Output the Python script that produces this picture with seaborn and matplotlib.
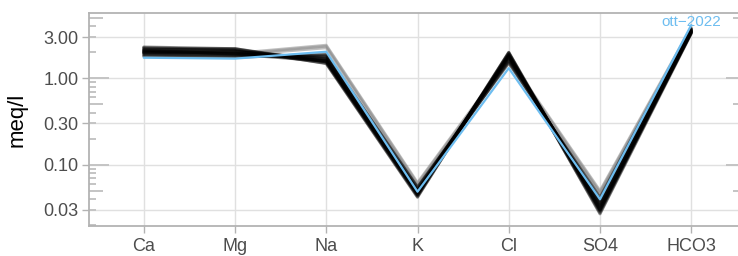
import numpy as np
import pandas as pd
import seaborn as sns
import matplotlib
matplotlib.use("Agg")
import matplotlib.pyplot as plt
from matplotlib.ticker import FixedLocator, NullLocator

# ions on the x axis
ions = ["Ca", "Mg", "Na", "K", "Cl", "SO4", "HCO3"]

# earlier samples (black band), meq/l
black_lines = [
    [2.25, 2.15, 1.55, 0.045, 1.95, 0.029, 3.45],
    [2.20, 2.10, 1.50, 0.043, 1.90, 0.028, 3.40],
    [2.10, 2.05, 1.60, 0.047, 1.85, 0.031, 3.50],
    [2.05, 2.00, 1.70, 0.050, 1.80, 0.033, 3.55],
    [2.00, 1.95, 1.65, 0.048, 1.75, 0.035, 3.60],
    [1.95, 1.90, 1.75, 0.052, 1.70, 0.036, 3.50],
    [1.90, 1.85, 1.80, 0.050, 1.60, 0.038, 3.65],
    [1.85, 1.80, 1.85, 0.054, 1.55, 0.040, 3.70],
    [2.15, 2.20, 1.55, 0.044, 2.00, 0.030, 3.35],
    [2.30, 2.20, 1.48, 0.042, 1.98, 0.027, 3.30],
    [1.80, 1.75, 1.90, 0.055, 1.50, 0.042, 3.75],
    [2.05, 1.95, 1.60, 0.046, 1.88, 0.032, 3.45],
    [1.98, 2.05, 1.68, 0.049, 1.78, 0.034, 3.55],
    [2.12, 1.90, 1.58, 0.045, 1.82, 0.030, 3.40],
]

# a few samples drawn in gray
gray_lines = [
    [2.00, 1.90, 2.35, 0.060, 1.65, 0.048, 3.80],
    [1.95, 1.85, 2.25, 0.057, 1.62, 0.046, 3.70],
    [2.05, 1.95, 2.42, 0.062, 1.70, 0.050, 3.90],
]

# highlighted sample
last_label = "ott\u22122022"
last_values = [1.73, 1.69, 2.03, 0.0487, 1.31, 0.0398, 4.14]

y_ticks = [0.03, 0.1, 0.3, 1.0, 3.0]
y_ticklabels = ["0.03", "0.10", "0.30", "1.00", "3.00"]


def to_long(lines, prefix):
    rows = []
    for i, vals in enumerate(lines):
        for ion, v in zip(ions, vals):
            rows.append({"sample": f"{prefix}{i}", "ion": ion, "meq": v})
    df = pd.DataFrame(rows)
    df["ion"] = pd.Categorical(df["ion"], categories=ions, ordered=True)
    return df


sns.set_theme(style="white")
plt.rcParams["font.family"] = ["Liberation Sans", "DejaVu Sans"]
plt.rcParams["lines.solid_joinstyle"] = "round"
plt.rcParams["lines.solid_capstyle"] = "round"

fig = plt.figure(figsize=(7.38, 2.56), dpi=100)
ax = fig.add_axes([89 / 738, 1 - 226 / 256, (746 - 89) / 738, (226 - 13) / 256])

border = "#b3b3b3"
ax.set_axisbelow(True)

sns.lineplot(data=to_long(gray_lines, "g"), x="ion", y="meq", units="sample",
             estimator=None, sort=False, color="#8c8c8c", alpha=0.55,
             linewidth=2.0, ax=ax)
sns.lineplot(data=to_long(black_lines, "b"), x="ion", y="meq", units="sample",
             estimator=None, sort=False, color="black", alpha=0.45,
             linewidth=2.2, ax=ax)
sns.lineplot(data=to_long([last_values], "x"), x="ion", y="meq", units="sample",
             estimator=None, sort=False, color="#6dbdf0", linewidth=1.6, ax=ax)

ax.annotate(last_label, xy=(len(ions) - 1, last_values[-1]), xytext=(0, 2),
            textcoords="offset points", ha="center", va="center",
            color="#6dbdf0", fontsize=11)

ax.set_yscale("log")
ax.set_ylim(0.01952, 5.70)
ax.set_xlim(-0.6, len(ions) - 1 + 0.6)
ax.yaxis.set_major_locator(FixedLocator(y_ticks))
ax.set_yticklabels(y_ticklabels)
ax.yaxis.set_minor_locator(NullLocator())
ax.set_xticks(range(len(ions)))
ax.set_xticklabels(ions)

ax.grid(True, which="major", color="#e0e0e0", linewidth=1.0)
for side in ["left", "top", "bottom", "right"]:
    ax.spines[side].set_color(border)
    ax.spines[side].set_linewidth(1.3)

ax.tick_params(axis="both", which="major", length=5, width=1.0, color=border,
               labelcolor="#4d4d4d", labelsize=13, pad=2.5, left=True, bottom=True)
ax.tick_params(axis="x", pad=3.5)

# log ticks drawn inside the panel on both sides
logs = []
for dec in [0.01, 0.1, 1.0]:
    for m in range(1, 10):
        logs.append((dec * m, m))
w = (746 - 89)
lengths = {1: 20 / w, 5: 13.5 / w}
tr = ax.get_yaxis_transform()
for val, m in logs:
    if val < 0.0195 or val > 5.7:
        continue
    L = lengths.get(m, 7 / w)
    ax.plot([0, L], [val, val], transform=tr, color="#c4c4c4", linewidth=1.4,
            solid_capstyle="butt", clip_on=False, zorder=1.5)
    ax.plot([1 - L, 1], [val, val], transform=tr, color="#c4c4c4", linewidth=1.4,
            solid_capstyle="butt", clip_on=False, zorder=1.5)

ax.set_xlabel("")
ax.set_ylabel("meq/l", fontsize=16, color="black")
ax.yaxis.set_label_coords((28 - 89) / w, 0.5)

fig.savefig("out.png", dpi=100)
